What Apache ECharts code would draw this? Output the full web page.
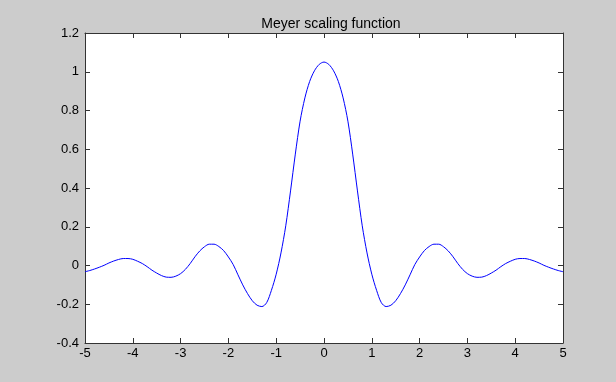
<!DOCTYPE html>
<html>
<head>
<meta charset="utf-8">
<script src="https://cdn.jsdelivr.net/npm/echarts@6/dist/echarts.min.js"></script>
<style>
  html, body { margin: 0; padding: 0; background: #cccccc; }
  #chart { width: 616px; height: 382px; }
</style>
</head>
<body>
<div id="chart"></div>
<script>
// sample positions along t
const tValues = [];
for (let i = 0; i <= 100; i++) tValues.push(+(-5 + i * 0.1).toFixed(1));

// phi(t), t = -5 ... 0 ... 5 in steps of 0.1
const phiLeft = [
  -0.032, -0.026, -0.018, -0.009, 0.001, 0.013, 0.023, 0.031, 0.036, 0.036,
  0.032, 0.022, 0.010, -0.006, -0.024, -0.039, -0.052, -0.060, -0.061, -0.055,
  -0.042, -0.020, 0.010, 0.045, 0.075, 0.097, 0.110, 0.110, 0.098, 0.077,
  0.044, 0.005, -0.048, -0.100, -0.145, -0.182, -0.205, -0.212, -0.192, -0.128,
  -0.045, 0.065, 0.205, 0.385, 0.575, 0.745, 0.865, 0.950, 1.005, 1.038
];
const phiPeak = [1.050];
const phiRight = [
  1.038, 1.005, 0.950, 0.865, 0.745, 0.575, 0.385, 0.205, 0.065, -0.045,
  -0.128, -0.192, -0.212, -0.205, -0.182, -0.145, -0.100, -0.048, 0.005, 0.044,
  0.077, 0.098, 0.110, 0.110, 0.097, 0.075, 0.045, 0.010, -0.020, -0.042,
  -0.055, -0.061, -0.060, -0.052, -0.039, -0.024, -0.006, 0.010, 0.022, 0.032,
  0.036, 0.036, 0.031, 0.023, 0.013, 0.001, -0.009, -0.018, -0.026, -0.032
];
const phiValues = phiLeft.concat(phiPeak, phiRight);

const xTicks = { min: -5, max: 5, step: 1 };
const yTicks = { min: -0.4, max: 1.2, step: 0.2 };

const chart = echarts.init(document.getElementById('chart'));

const axisColor = '#333333';
const labelFont = { color: '#000', fontFamily: 'Liberation Sans, Arial, sans-serif', fontSize: 13 };

const option = {
  backgroundColor: '#cccccc',
  animation: false,
  title: {
    text: 'Meyer scaling function',
    left: 326,
    textAlign: 'center',
    top: 12,
    textStyle: { color: '#000', fontWeight: 'normal', fontSize: 14, fontFamily: 'Liberation Sans, Arial, sans-serif' }
  },
  grid: {
    left: 85, right: 53, top: 33, bottom: 39,
    show: true, backgroundColor: '#ffffff', borderWidth: 0
  },
  xAxis: [
    {
      type: 'value', min: xTicks.min, max: xTicks.max, interval: xTicks.step,
      position: 'bottom',
      axisLine: { show: true, onZero: false, lineStyle: { color: axisColor, width: 1 } },
      axisTick: { show: true, inside: true, length: 5, lineStyle: { color: axisColor } },
      axisLabel: Object.assign({ margin: 4 }, labelFont),
      splitLine: { show: false }
    },
    {
      type: 'value', min: xTicks.min, max: xTicks.max, interval: xTicks.step,
      position: 'top',
      axisLine: { show: true, onZero: false, lineStyle: { color: axisColor, width: 1 } },
      axisTick: { show: true, inside: true, length: 5, lineStyle: { color: axisColor } },
      axisLabel: { show: false },
      splitLine: { show: false }
    }
  ],
  yAxis: [
    {
      type: 'value', min: yTicks.min, max: yTicks.max, interval: yTicks.step,
      position: 'left',
      axisLine: { show: true, onZero: false, lineStyle: { color: axisColor, width: 1 } },
      axisTick: { show: true, inside: true, length: 5, lineStyle: { color: axisColor } },
      axisLabel: Object.assign({ margin: 6, formatter: v => String(+v.toFixed(1)) }, labelFont),
      splitLine: { show: false }
    },
    {
      type: 'value', min: yTicks.min, max: yTicks.max, interval: yTicks.step,
      position: 'right',
      axisLine: { show: true, onZero: false, lineStyle: { color: axisColor, width: 1 } },
      axisTick: { show: true, inside: true, length: 5, lineStyle: { color: axisColor } },
      axisLabel: { show: false },
      splitLine: { show: false }
    }
  ],
  series: [
    {
      type: 'line',
      xAxisIndex: 0,
      yAxisIndex: 0,
      data: tValues.map((t, i) => [t, phiValues[i]]),
      showSymbol: false,
      smooth: 0.3,
      lineStyle: { color: '#0000ff', width: 1 }
    }
  ]
};

chart.setOption(option);
</script>
</body>
</html>
